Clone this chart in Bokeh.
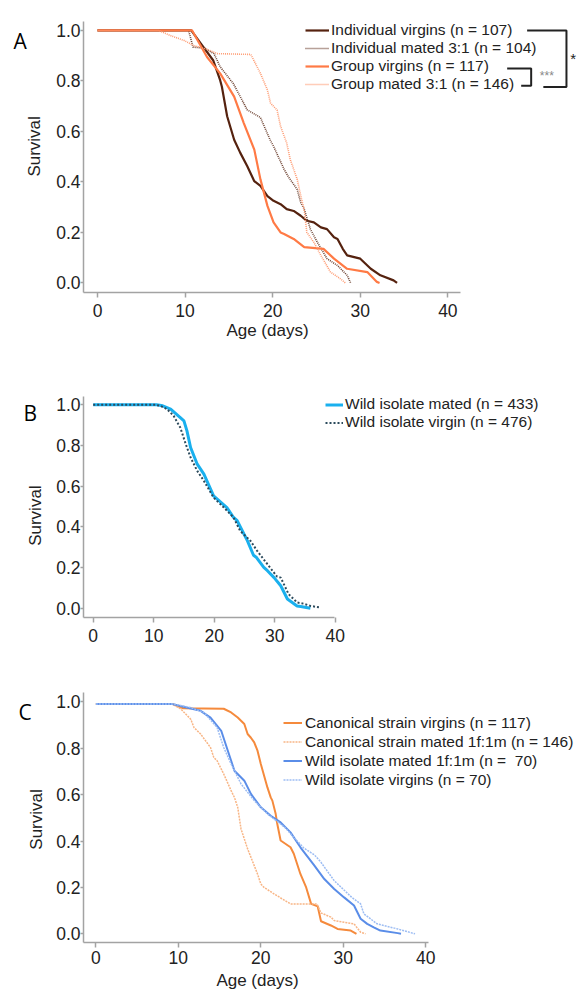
import math
from bokeh.plotting import figure
from bokeh.models import Range1d, FixedTicker, NumeralTickFormatter, Legend, LegendItem, Label
from bokeh.layouts import column, row
from bokeh.core.properties import value
from bokeh.embed import file_html
from bokeh.resources import INLINE

FONT = "Liberation Sans"

# ---------------- Panel A data ----------------
a_ind_virgin_day = [0, 10.7, 11.8, 13.2, 14.0, 14.2, 14.8, 15.6, 16.3, 17.1, 17.9, 18.6, 19.4, 20.1, 20.9, 21.6, 22.4, 23.2, 23.9, 24.7, 25.5, 26.2, 27.0, 27.4, 28.0, 28.5, 30.0, 31.2, 32.3, 33.8, 34.2]
a_ind_virgin_surv = [1.0, 1.0, 0.948, 0.882, 0.803, 0.777, 0.66, 0.567, 0.515, 0.462, 0.403, 0.384, 0.344, 0.325, 0.312, 0.292, 0.285, 0.266, 0.246, 0.24, 0.22, 0.213, 0.181, 0.174, 0.135, 0.109, 0.096, 0.056, 0.03, 0.01, 0.0]

a_ind_mated_day = [0, 10.4, 10.9, 12.2, 13.3, 14.0, 15.2, 15.5, 17.1, 18.6, 19.7, 20.1, 21.3, 21.8, 22.8, 23.2, 23.6, 24.3, 25.1, 26.2, 27.4, 28.5, 28.9]
a_ind_mated_surv = [1.0, 1.0, 0.934, 0.93, 0.908, 0.856, 0.803, 0.79, 0.685, 0.655, 0.567, 0.541, 0.45, 0.42, 0.37, 0.318, 0.292, 0.213, 0.161, 0.096, 0.069, 0.03, 0.0]

a_grp_virgin_day = [0, 10.8, 12.5, 14.0, 15.6, 16.7, 17.9, 18.6, 19.4, 20.1, 20.9, 21.3, 22.4, 23.6, 25.8, 27.0, 28.5, 30.8, 31.9, 32.2]
a_grp_virgin_surv = [1.0, 1.0, 0.895, 0.83, 0.738, 0.633, 0.528, 0.41, 0.305, 0.24, 0.2, 0.194, 0.174, 0.142, 0.135, 0.096, 0.056, 0.043, 0.004, 0.0]

a_grp_mated_day = [0, 7.0, 8.3, 9.9, 11.0, 12.5, 13.7, 17.5, 18.6, 19.4, 19.75, 20.5, 20.9, 21.6, 22.0, 22.4, 22.8, 23.3, 23.6, 23.9, 24.7, 25.5, 26.6, 27.7, 28.3]
a_grp_mated_surv = [1.0, 1.0, 0.98, 0.96, 0.94, 0.925, 0.908, 0.905, 0.83, 0.764, 0.712, 0.685, 0.62, 0.554, 0.489, 0.45, 0.41, 0.33, 0.29, 0.2, 0.161, 0.109, 0.043, 0.017, 0.0]

a_labels = ["Individual virgins (n = 107)", "Individual mated 3:1 (n = 104)",
            "Group virgins (n = 117)", "Group mated 3:1 (n = 146)"]

# ---------------- Panel B data ----------------
b_mated_day = [0, 10.5, 11.5, 12.8, 14.4, 15.0, 15.5, 16.1, 17.2, 18.3, 19.9, 22.1, 23.2, 23.8, 25.5, 26.5, 27.0, 28.2, 28.8, 29.9, 31.0, 32.1, 33.7, 34.3, 35.9]
b_mated_surv = [1.0, 1.0, 0.995, 0.979, 0.937, 0.921, 0.872, 0.79, 0.708, 0.659, 0.552, 0.495, 0.446, 0.43, 0.331, 0.26, 0.249, 0.2, 0.184, 0.15, 0.11, 0.045, 0.011, 0.008, 0.0]

b_virgin_day = [0, 10.3, 11.1, 12.2, 13.3, 14.4, 15.3, 16.1, 17.2, 18.3, 19.9, 21.6, 23.2, 24.3, 26.0, 27.1, 28.8, 30.4, 31.0, 32.3, 33.7, 34.8, 35.9, 37.6]
b_virgin_surv = [1.0, 1.0, 0.995, 0.979, 0.946, 0.888, 0.807, 0.741, 0.675, 0.626, 0.544, 0.495, 0.446, 0.38, 0.331, 0.282, 0.216, 0.155, 0.15, 0.069, 0.028, 0.022, 0.011, 0.003]

b_labels = ["Wild isolate mated (n = 433)", "Wild isolate virgin (n = 476)"]

# ---------------- Panel C data ----------------
c_can_virgin_day = [0, 9.3, 10.6, 15.5, 16.4, 17.2, 17.6, 18.0, 18.4, 18.8, 19.2, 19.6, 20.0, 20.8, 21.2, 21.4, 21.8, 22.0, 22.4, 23.6, 24.0, 24.8, 25.5, 26.1, 26.9, 27.3, 28.5, 29.3, 30.9, 31.6]
c_can_virgin_surv = [0.99, 0.99, 0.972, 0.97, 0.954, 0.932, 0.918, 0.904, 0.861, 0.845, 0.825, 0.789, 0.732, 0.631, 0.588, 0.574, 0.517, 0.473, 0.402, 0.373, 0.345, 0.258, 0.2, 0.129, 0.118, 0.054, 0.036, 0.021, 0.014, 0.0]

c_can_mated_day = [0, 9.3, 10.3, 11.5, 11.9, 12.7, 13.9, 14.3, 14.7, 15.5, 16.4, 16.8, 17.2, 17.6, 18.4, 19.6, 20.0, 20.4, 21.6, 23.6, 26.8, 27.3, 28.5, 28.9, 31.3, 32.1, 32.7]
c_can_mated_surv = [0.99, 0.99, 0.969, 0.925, 0.889, 0.861, 0.803, 0.76, 0.746, 0.689, 0.617, 0.588, 0.545, 0.452, 0.366, 0.258, 0.215, 0.2, 0.172, 0.129, 0.129, 0.09, 0.072, 0.057, 0.043, 0.007, 0.0]

c_wild_mated_day = [0, 9.3, 11.0, 12.7, 13.9, 15.2, 16.0, 16.8, 18.0, 18.8, 20.0, 21.2, 22.4, 23.6, 24.8, 26.5, 27.7, 28.9, 30.1, 31.3, 32.1, 32.9, 33.7, 34.5, 36.6, 37.0]
c_wild_mated_surv = [0.99, 0.99, 0.975, 0.961, 0.932, 0.875, 0.789, 0.703, 0.66, 0.603, 0.545, 0.509, 0.48, 0.437, 0.373, 0.294, 0.236, 0.193, 0.157, 0.122, 0.065, 0.043, 0.028, 0.014, 0.003, 0.0]

c_wild_virgin_day = [0, 9.5, 11.5, 13.1, 14.7, 15.5, 16.4, 17.6, 19.2, 20.8, 22.9, 24.0, 25.2, 26.5, 27.3, 28.9, 31.0, 32.1, 32.5, 34.1, 36.6, 38.7]
c_wild_virgin_surv = [0.99, 0.99, 0.975, 0.954, 0.889, 0.803, 0.732, 0.646, 0.574, 0.517, 0.459, 0.416, 0.37, 0.34, 0.308, 0.229, 0.158, 0.129, 0.086, 0.043, 0.021, 0.0]

c_labels = ["Canonical strain virgins (n = 117)", "Canonical strain mated 1f:1m (n = 146)",
            "Wild isolate mated 1f:1m (n =  70)", "Wild isolate virgins (n = 70)"]

x_ticks = [0, 10, 20, 30, 40]
y_ticks = [0.0, 0.2, 0.4, 0.6, 0.8, 1.0]

AXIS_COLOR = "#a3a3a3"
TEXT_COLOR = "#222222"
W = 579
LEFT_W = 45


def blank_fig(width, height):
    q = figure(width=width, height=height, output_backend="svg", toolbar_location=None,
               x_range=Range1d(0, width), y_range=Range1d(0, height),
               x_axis_type=None, y_axis_type=None,
               min_border_left=0, min_border_right=0, min_border_top=0, min_border_bottom=0)
    q.outline_line_color = None
    q.grid.visible = False
    return q


def left_fig(height, letter, lx, ly, sx, sy):
    q = blank_fig(LEFT_W, height)
    q.text(x=[lx], y=[height - ly], text=[letter], text_font=value("Open Sans"), text_font_size="21px",
           text_color="black", text_baseline="middle", text_align="left")
    q.text(x=[sx], y=[height - sy], text=["Survival"], angle=math.pi / 2, text_font=value(FONT),
           text_font_size="17px", text_color=TEXT_COLOR, text_baseline="middle", text_align="center")
    return q


def xlabel_fig(height, cx, cy):
    q = blank_fig(W, height)
    q.text(x=[cx], y=[height - cy], text=["Age (days)"], text_font=value(FONT),
           text_font_size="17px", text_color=TEXT_COLOR, text_baseline="middle", text_align="center")
    return q


def make_fig(height, top, bottom, xr, yr, xbounds, tick_standoff):
    p = figure(width=W - LEFT_W, height=height, output_backend="svg", toolbar_location=None,
               x_range=Range1d(*xr), y_range=Range1d(*yr),
               min_border_left=83 - LEFT_W, min_border_right=2,
               min_border_top=top, min_border_bottom=bottom)
    p.outline_line_color = None
    p.grid.visible = False
    for ax in (p.xaxis[0], p.yaxis[0]):
        ax.axis_line_color = AXIS_COLOR
        ax.axis_line_width = 1.5
        ax.major_tick_line_color = AXIS_COLOR
        ax.major_tick_line_width = 1.5
        ax.minor_tick_line_color = None
        ax.major_tick_in = 0
        ax.major_label_text_font = FONT
        ax.major_label_text_font_size = "17.5px"
        ax.major_label_text_color = TEXT_COLOR
    p.xaxis.ticker = FixedTicker(ticks=x_ticks)
    p.xaxis.bounds = xbounds
    p.xaxis.major_tick_out = 5
    p.xaxis.major_label_standoff = tick_standoff
    p.yaxis.ticker = FixedTicker(ticks=y_ticks)
    p.yaxis.formatter = NumeralTickFormatter(format="0.0")
    p.yaxis.major_tick_out = 3
    p.yaxis.major_label_standoff = 0
    return p


def add_legend(p, renderers, labels, loc, glyph_w, row_h, standoff):
    items = [LegendItem(label=l, renderers=[r]) for l, r in zip(labels, renderers)]
    lg = Legend(items=items, location=loc, padding=0, margin=0, spacing=0,
                glyph_width=glyph_w, glyph_height=row_h, label_height=row_h,
                label_standoff=standoff, border_line_alpha=0, background_fill_alpha=0,
                label_text_font=FONT, label_text_font_size="15.5px",
                label_text_color=TEXT_COLOR)
    p.add_layout(lg)


# ---------------- Panel A ----------------
HA = 319
pa = make_fig(HA, 21, 25, (-1.6, 54.8), (-0.038, 1.0354), (-1.6, 41.4), 6)
ra1 = pa.line(a_ind_virgin_day, a_ind_virgin_surv, line_color="#55220f", line_width=2.2)
ra2 = pa.line(a_ind_mated_day, a_ind_mated_surv, line_color="#6e4332", line_width=1.6, line_dash="1 1")
ra3 = pa.line(a_grp_virgin_day, a_grp_virgin_surv, line_color="#ff7a45", line_width=2.2)
ra4 = pa.line(a_grp_mated_day, a_grp_mated_surv, line_color="#ff9b72", line_width=1.6, line_dash="1 1")
add_legend(pa, [ra1, ra2, ra3, ra4], a_labels, (222, 199), 24, 18, 2)

# significance brackets
pa.line([49.05, 53.54, 53.54, 50.9], [1.0, 1.0, 0.776, 0.776], line_color="#222222", line_width=2)
pa.line([46.77, 49.51, 49.51, 48.37], [0.849, 0.849, 0.781, 0.781], line_color="#222222", line_width=2)
pa.add_layout(Label(x=54.3, y=0.89, text="*", text_font=FONT, text_font_size="15px",
                    text_color="#222222", text_align="center", text_baseline="middle"))
pa.add_layout(Label(x=51.3, y=0.82, text="***", text_font=FONT, text_font_size="12px",
                    text_color="#888888", text_align="center", text_baseline="middle"))
la = left_fig(HA, "A", 13, 22.5, 34, 147)
xa = xlabel_fig(340 - HA, 267, 329.5 - HA)

# ---------------- Panel B ----------------
HB = 308
pb = make_fig(HB, 56, 31, (-1.6, 80.05), (-0.046, 1.041), (-1.6, 39.9), 6)
rb1 = pb.line(b_mated_day, b_mated_surv, line_color="#1ab0ee", line_width=3)
rb2 = pb.line(b_virgin_day, b_virgin_surv, line_color="#2b4a5c", line_width=2, line_dash="2 2")
add_legend(pb, [rb1, rb2], b_labels, (242, 186), 18, 17, 2)
lb = left_fig(HB, "B", 23, 23, 34.5, 166)

# ---------------- Panel C ----------------
HC = 321
pc = make_fig(HC, 44, 27, (-1.5, 58.4), (-0.0374, 1.04), (-1.5, 40.3), 3)
rc1 = pc.line(c_can_virgin_day, c_can_virgin_surv, line_color="#f58a3c", line_width=2)
rc2 = pc.line(c_can_mated_day, c_can_mated_surv, line_color="#f8b585", line_width=1.5, line_dash="2 1")
rc3 = pc.line(c_wild_mated_day, c_wild_mated_surv, line_color="#5a8de8", line_width=2)
rc4 = pc.line(c_wild_virgin_day, c_wild_virgin_surv, line_color="#9dbdf3", line_width=1.5, line_dash="2 1")
add_legend(pc, [rc1, rc2, rc3, rc4], c_labels, (200, 153), 19, 19, 3)
lc = left_fig(HC, "C", 18, 25, 36, 163)
xc = xlabel_fig(990 - 648 - HC, 257, 980 - 648 - HC)

layout = column(row(la, pa, spacing=0), xa,
                row(lb, pb, spacing=0),
                row(lc, pc, spacing=0), xc, spacing=0)
open("out.html", "w").write(file_html(layout, INLINE))
